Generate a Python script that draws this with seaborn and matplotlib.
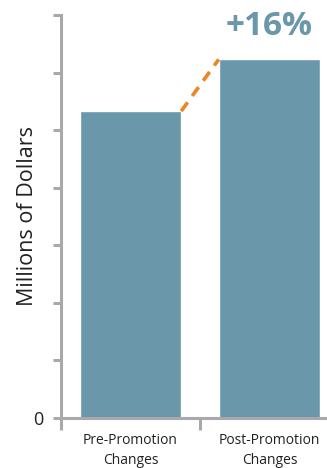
import matplotlib
matplotlib.use("Agg")
import matplotlib.pyplot as plt
import seaborn as sns
import pandas as pd

categories = ["Pre-Promotion\nChanges", "Post-Promotion\nChanges"]
values = [5.33, 6.23]
change_label = "+16%"
y_ticks = [0, 1, 2, 3, 4, 5, 6, 7]
y_ticklabels = ["0", "", "", "", "", "", "", ""]

BAR = "#6a97aa"
ORANGE = "#ee8524"
GRAY = "#a9a9ab"
BAR_WIDTH = 0.73

sns.set_theme(style="white")
plt.rcParams["font.family"] = ["Open Sans", "DejaVu Sans"]

df = pd.DataFrame({"cat": categories, "val": values})

fig = plt.figure(figsize=(3.27, 4.68), dpi=100)
ax = fig.add_axes([61 / 327, 1 - 418 / 468, 1 - 61 / 327, (418 - 15) / 468])
sns.barplot(data=df, x="cat", y="val", order=categories, color=BAR,
            saturation=1, width=BAR_WIDTH, ax=ax)

ax.set_ylim(0, 7)
ax.set_xlim(-0.5, 1.414)
ax.set_yticks(y_ticks)
ax.set_yticklabels(y_ticklabels, fontsize=13, color="#222222")
ax.set_xticks([0, 1])
ax.set_xticklabels(categories, fontsize=10, color="#222222", linespacing=1.45)
ax.set_xticks([-0.5, 0.5], minor=True)
ax.tick_params(axis="x", which="major", length=0, pad=11, bottom=True)
ax.tick_params(axis="x", which="minor", length=8.5, width=2.2, color=GRAY,
               direction="out", bottom=True)
ax.tick_params(axis="y", which="major", length=5.8, width=2.2, color=GRAY,
               direction="out", pad=7, left=True)
ax.set_xlabel("")
ax.set_ylabel("Millions of Dollars", fontsize=15.5, color="#222222")
ax.yaxis.set_label_coords(-0.086, 0.5)

for s in ["top", "right"]:
    ax.spines[s].set_visible(False)
for s in ["left", "bottom"]:
    ax.spines[s].set_color(GRAY)
    ax.spines[s].set_linewidth(2.2)

ax.plot([0 + BAR_WIDTH / 2, 1 - BAR_WIDTH / 2], [values[0], values[1]],
        color=ORANGE, lw=2.6, ls=(0, (3, 2.2)), solid_capstyle="butt",
        dash_capstyle="butt", zorder=3)

ax.annotate(change_label, xy=(1, values[1]), xytext=(0, 12),
            textcoords="offset points", ha="center", va="bottom",
            fontsize=24, fontweight="bold", color=BAR, annotation_clip=False)

fig.savefig("out.png", dpi=100)
